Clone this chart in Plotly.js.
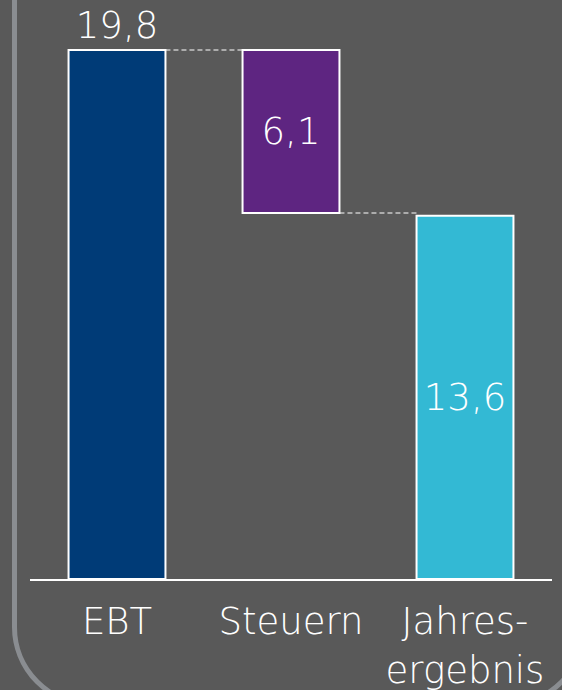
<!DOCTYPE html>
<html>
<head>
<meta charset="utf-8">
<script src="https://cdn.plot.ly/plotly-3.0.1.min.js"></script>
<style>
  html, body { margin: 0; padding: 0; background: #595959; width: 562px; height: 690px; overflow: hidden; }
  #frame { position: absolute; left: 12px; top: -110px; width: 575px; height: 817px; box-sizing: border-box;
           border: 5px solid #8a8d91; border-radius: 80px; }
  #chart { position: absolute; left: 0; top: 0; width: 562px; height: 690px; }
</style>
</head>
<body>
<div id="frame"></div>
<div id="chart"></div>
<script>
const categories = ['EBT', 'Steuern', 'Jahres-<br>ergebnis'];
const values = [19.8, 6.1, 13.6];
const kinds = ['absolute', 'relative', 'total'];
const colors = ['#003b77', '#5e2581', '#33b9d4'];
const labelPositions = ['outside', 'inside', 'inside'];

const bases = [0, values[0] - values[1], 0];
const labels = values.map(v => v.toFixed(1).replace('.', ','));

const bargap = 0.443;
const half = (1 - bargap) / 2;

const trace = {
  type: 'bar',
  x: categories,
  y: values,
  base: bases,
  marker: { color: colors, line: { color: '#ffffff', width: 2 } },
  text: labels,
  textposition: labelPositions,
  insidetextanchor: 'middle',
  constraintext: 'none',
  cliponaxis: false,
  textfont: { family: 'DejaVu Sans', size: 37, color: '#ffffff', weight: 300 },
  hoverinfo: 'skip'
};

const dash = { color: '#c8c8c8', width: 1.5, dash: '5px,3px' };
const shapes = [
  { type: 'line', xref: 'x', yref: 'y', x0: 0 + half, x1: 1 - half, y0: values[0], y1: values[0], line: dash, layer: 'below' },
  { type: 'line', xref: 'x', yref: 'y', x0: 1 + half, x1: 2 - half, y0: bases[1], y1: bases[1], line: dash, layer: 'below' }
];

const layout = {
  width: 562, height: 690,
  margin: { l: 30, r: 10, t: 18, b: 111 },
  paper_bgcolor: 'rgba(0,0,0,0)',
  plot_bgcolor: 'rgba(0,0,0,0)',
  font: { family: 'DejaVu Sans', color: '#ffffff', weight: 300 },
  separators: ',.',
  bargap: bargap,
  showlegend: false,
  xaxis: {
    type: 'category', range: [-0.5, 2.5], fixedrange: true,
    showline: true, linecolor: '#ffffff', linewidth: 2,
    showgrid: false, zeroline: false, ticks: '',
    tickfont: { family: 'DejaVu Sans', size: 37, color: '#ffffff', weight: 300 },
    ticklabelstandoff: 9
  },
  yaxis: {
    range: [0, 21], visible: false, showgrid: false, zeroline: false, fixedrange: true
  },
  shapes: shapes
};

Plotly.newPlot('chart', [trace], layout, { staticPlot: true, displayModeBar: false });
</script>
</body>
</html>
